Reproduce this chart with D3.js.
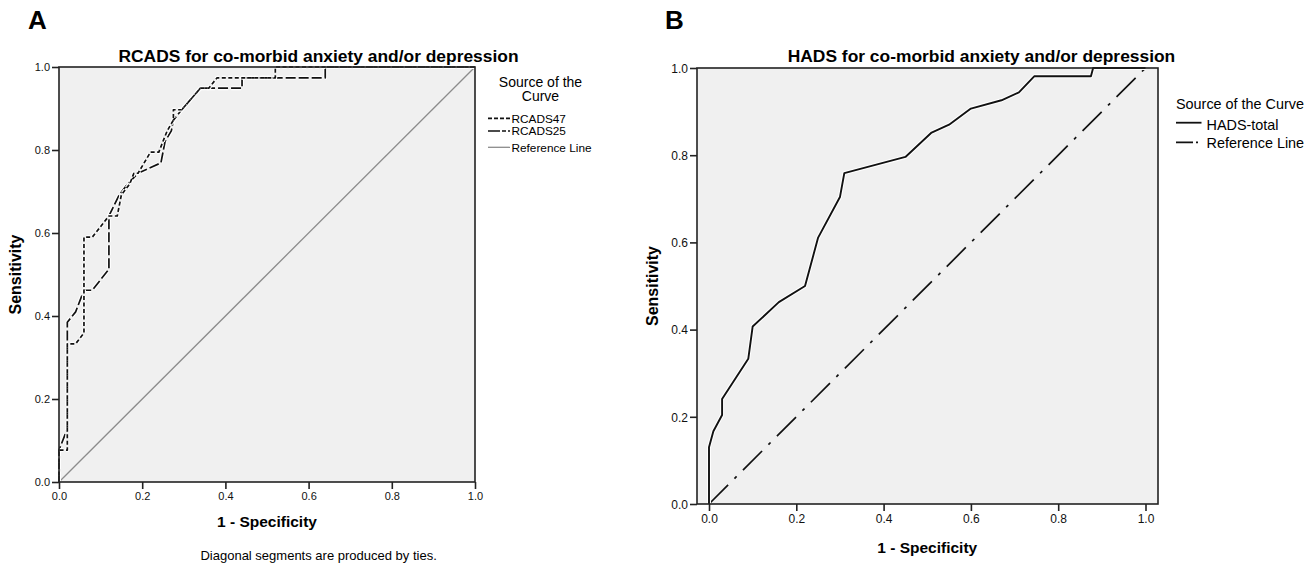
<!DOCTYPE html>
<html><head><meta charset="utf-8">
<script src="https://cdn.jsdelivr.net/npm/d3@7"></script>
<style>
html,body{margin:0;padding:0;background:#fff;}
svg{display:block;font-family:"Liberation Sans",Arial,sans-serif;}
</style></head>
<body>
<svg id="chart" width="1316" height="564"></svg>
<script>
// ---------- DATA ----------
const tickValues = [0, 0.2, 0.4, 0.6, 0.8, 1.0];

// Panel A: RCADS
const rcads47Fpr = [0,0,0.02,0.02,0.04,0.06,0.06,0.08,0.12,0.14,0.15,0.17,0.18,0.19,0.22,0.24,0.25,0.26,0.275,0.275,0.295,0.34,0.36,0.38,0.52,0.52,1];
const rcads47Tpr = [0,0.077,0.077,0.333,0.333,0.359,0.590,0.590,0.641,0.641,0.692,0.718,0.744,0.744,0.795,0.795,0.821,0.846,0.872,0.897,0.897,0.949,0.949,0.974,0.974,1,1];
const rcads25Fpr = [0,0,0.02,0.02,0.04,0.06,0.08,0.12,0.12,0.145,0.165,0.19,0.245,0.25,0.255,0.27,0.275,0.295,0.34,0.44,0.44,0.64,0.64,1];
const rcads25Tpr = [0,0.077,0.128,0.385,0.410,0.462,0.462,0.513,0.641,0.692,0.718,0.744,0.769,0.795,0.821,0.846,0.872,0.897,0.949,0.949,0.974,0.974,1,1];
const refA = [[0,0],[1,1]];

// Panel B: HADS
const hadsFpr = [0,0,0.01,0.03,0.03,0.09,0.10,0.16,0.22,0.25,0.30,0.31,0.45,0.51,0.55,0.60,0.67,0.71,0.745,0.875,0.88,1];
const hadsTpr = [0,0.130,0.167,0.204,0.241,0.333,0.407,0.463,0.500,0.611,0.704,0.759,0.796,0.852,0.870,0.907,0.926,0.944,0.981,0.981,1,1];
const refB = [[0,0],[1,1]];

const titleA = "RCADS for co-morbid anxiety and/or depression";
const titleB = "HADS for co-morbid anxiety and/or depression";
const legendTitleA = ["Source of the","Curve"];
const legendItemsA = ["RCADS47","RCADS25","Reference Line"];
const legendTitleB = "Source of the Curve";
const legendItemsB = ["HADS-total","Reference Line"];
const xLabel = "1 - Specificity";
const yLabel = "Sensitivity";
const noteA = "Diagonal segments are produced by ties.";

// ---------- DRAW ----------
const svg = d3.select("#chart");
const fmt = d3.format(".1f");
const zip = (a,b) => a.map((v,i)=>[v,b[i]]);

function panel(o){
  const g = svg.append("g");
  const x = d3.scaleLinear().domain([0,1]).range([o.x0,o.x1]);
  const y = d3.scaleLinear().domain([0,1]).range([o.y0,o.y1]);
  // plot background & frame
  g.append("rect").attr("x",o.fx0).attr("y",o.y1).attr("width",o.fx1-o.fx0).attr("height",o.y0-o.y1)
    .attr("fill","#f0f0f0");
  const line = d3.line().x(d=>x(d[0])).y(d=>y(d[1]));
  o.series.forEach(s=>{
    if(s.halo){
      g.append("path").datum(s.data).attr("d",line).attr("fill","none")
        .attr("stroke","#fff").attr("stroke-width",4).attr("stroke-dasharray",s.dash||null).attr("stroke-linejoin","round");
    }
    g.append("path").datum(s.data).attr("d",line).attr("fill","none")
      .attr("stroke",s.color).attr("stroke-width",s.width).attr("stroke-dasharray",s.dash||null)
      .attr("stroke-linejoin","round");
  });
  g.append("rect").attr("x",o.fx0).attr("y",o.y1).attr("width",o.fx1-o.fx0).attr("height",o.y0-o.y1)
    .attr("fill","none").attr("stroke","#222").attr("stroke-width",1.6);
  // axes
  const ax = g.append("g").attr("transform",`translate(0,${o.y0})`)
    .call(d3.axisBottom(x).tickValues(tickValues).tickFormat(fmt).tickSize(7).tickPadding(3));
  const ay = g.append("g").attr("transform",`translate(${o.fx0},0)`)
    .call(d3.axisLeft(y).tickValues(tickValues).tickFormat(fmt).tickSize(7).tickPadding(2));
  [ax,ay].forEach(a=>{
    a.select(".domain").remove();
    a.selectAll("line").attr("stroke","#222").attr("stroke-width",1.6);
    a.selectAll("text").attr("fill","#111").style("font-size",o.tickFont+"px")
      .style("font-family","'Liberation Sans',Arial,sans-serif");
  });
  ay.selectAll("text").attr("dy","0.36em");
  // labels
  g.append("text").attr("x",o.letterX).attr("y",29).text(o.letter)
    .style("font-size","26px").style("font-weight","bold");
  g.append("text").attr("x",o.titleX).attr("y",62).attr("text-anchor","middle").text(o.title)
    .style("font-size","17.4px").style("font-weight","bold");
  g.append("text").attr("transform",`translate(${o.ylabX},${(o.y0+o.y1)/2}) rotate(-90)`)
    .attr("text-anchor","middle").text(yLabel).style("font-size","16px").style("font-weight","bold");
  g.append("text").attr("x",x(0.5)).attr("y",o.xlabY).attr("text-anchor","middle").text(xLabel)
    .style("font-size","15.5px").style("font-weight","bold");
  return {g,x,y};
}

// Panel A
const A = panel({
  x0:59,x1:475,fx0:59,fx1:475,y0:482,y1:67,tickFont:11,
  letter:"A",letterX:28,title:titleA,titleX:318.5,ylabX:21,xlabY:527,
  series:[
    {data:refA,color:"#8c8c8c",width:1.3},
    {data:zip(rcads25Fpr,rcads25Tpr),color:"#111",width:1.7,dash:"10,3",halo:true},
    {data:zip(rcads47Fpr,rcads47Tpr),color:"#111",width:1.7,dash:"4,2.5",halo:true}
  ]
});
A.g.append("text").attr("x",318.6).attr("y",560).attr("text-anchor","middle").text(noteA)
  .style("font-size","13px");
// legend A
legendTitleA.forEach((t,i)=>{
  A.g.append("text").attr("x",540.5).attr("y",87.3+i*13.4).attr("text-anchor","middle").text(t)
    .style("font-size","14px");
});
const legA = [
  {y:118.3,dash:"4,2",color:"#111",w:1.7},
  {y:131,dash:"12,2,4,2",color:"#111",w:1.7},
  {y:147.3,dash:null,color:"#8c8c8c",w:1.3}
];
legA.forEach((l,i)=>{
  A.g.append("line").attr("x1",488).attr("x2",510).attr("y1",l.y).attr("y2",l.y)
    .attr("stroke",l.color).attr("stroke-width",l.w).attr("stroke-dasharray",l.dash);
  A.g.append("text").attr("x",511.5).attr("y",l.y+4.3).text(legendItemsA[i]).style("font-size","11.8px");
});

// Panel B
const B = panel({
  x0:709,x1:1145.5,fx0:697,fx1:1158,y0:504,y1:68,tickFont:12,
  letter:"B",letterX:665,title:titleB,titleX:981.5,ylabX:658,xlabY:553,
  series:[
    {data:refB,color:"#111",width:1.7,dash:"27,9,3,9"},
    {data:zip(hadsFpr,hadsTpr),color:"#111",width:1.9,halo:true}
  ]
});
B.g.append("text").attr("x",1176).attr("y",109).text(legendTitleB).style("font-size","14.4px");
const legB = [
  {y:122.7,dash:null},
  {y:142.3,dash:"17,3,2,40"}
];
legB.forEach((l,i)=>{
  B.g.append("line").attr("x1",1176).attr("x2",1201.5).attr("y1",l.y).attr("y2",l.y)
    .attr("stroke","#111").attr("stroke-width",1.8).attr("stroke-dasharray",l.dash);
  B.g.append("text").attr("x",1206.5).attr("y",l.y+(i===0?7.3:6)).text(legendItemsB[i]).style("font-size","14.4px");
});
</script>
</body></html>
